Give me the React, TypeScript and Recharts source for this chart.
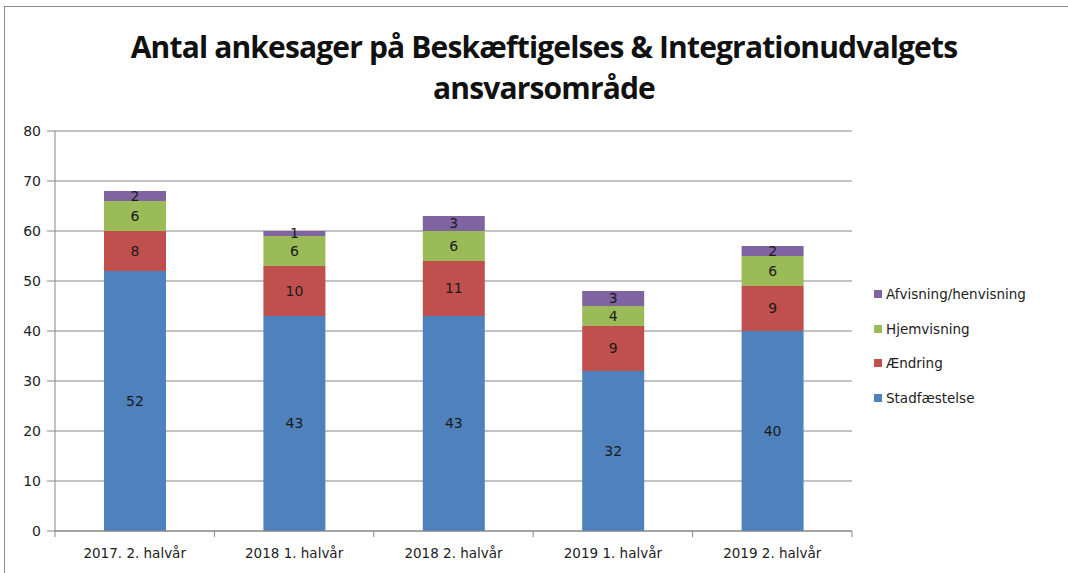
import React from 'react';
import { BarChart, Bar, XAxis, YAxis, CartesianGrid, LabelList } from 'recharts';

// =============================================================================
// Data
// =============================================================================

const periods = ['2017. 2. halvår', '2018 1. halvår', '2018 2. halvår', '2019 1. halvår', '2019 2. halvår'];
const stadfaestelse = [52, 43, 43, 32, 40];
const aendring = [8, 10, 11, 9, 9];
const hjemvisning = [6, 6, 6, 4, 6];
const afvisning = [2, 1, 3, 3, 2];
const yTicks = [0, 10, 20, 30, 40, 50, 60, 70, 80];

const SERIES = [
  { key: 'stadfaestelse', name: 'Stadfæstelse', color: '#4F81BD' },
  { key: 'aendring', name: 'Ændring', color: '#C0504D' },
  { key: 'hjemvisning', name: 'Hjemvisning', color: '#9BBB59' },
  { key: 'afvisning', name: 'Afvisning/henvisning', color: '#8064A2' },
];

const data = periods.map((p, i) => ({
  period: p,
  stadfaestelse: stadfaestelse[i],
  aendring: aendring[i],
  hjemvisning: hjemvisning[i],
  afvisning: afvisning[i],
}));

// =============================================================================
// Layout
// =============================================================================

const W = 1068;
const H = 573;
const Y_AXIS_W = 55;
const X_AXIS_H = 42;
const MARGIN = { top: 131, right: 216, bottom: 0, left: 0 };
const BAND = (W - Y_AXIS_W - MARGIN.right) / periods.length;
const FONT = '"DejaVu Sans", Verdana, sans-serif';

function XTick(props: any) {
  const { x, y, payload, index } = props;
  const half = BAND / 2;
  return (
    <g>
      {index === 0 && <line x1={x - half} y1={y - 8} x2={x - half} y2={y - 2} stroke="#868686" />}
      <line x1={x + half} y1={y - 8} x2={x + half} y2={y - 2} stroke="#868686" />
      <text x={x} y={y + 19} textAnchor="middle" fontSize={13.5} fill="#222" fontFamily={FONT}>
        {payload.value}
      </text>
    </g>
  );
}

function Legend() {
  return (
    <div style={{ position: 'absolute', left: 874, top: 277, fontFamily: FONT, fontSize: 13.5, color: '#222' }}>
      {[...SERIES].reverse().map((s) => (
        <div key={s.key} style={{ display: 'flex', alignItems: 'center', height: 34.5 }}>
          <span style={{ width: 8, height: 8, background: s.color, marginRight: 4, display: 'inline-block' }} />
          <span>{s.name}</span>
        </div>
      ))}
    </div>
  );
}

export default function App() {
  return (
    <div style={{ position: 'absolute', left: 0, top: 0, width: W, height: H, background: '#fff', overflow: 'hidden' }}>
      <div
        style={{
          position: 'absolute',
          left: 4,
          top: 6,
          width: W + 10,
          height: H + 10,
          border: '1px solid #8c8c8c',
          boxSizing: 'border-box',
        }}
      />
      <div
        style={{
          position: 'absolute',
          left: 0,
          top: 26,
          width: 1088,
          textAlign: 'center',
          fontFamily: '"Open Sans", sans-serif',
          fontWeight: 700,
          fontSize: 30,
          lineHeight: '41px',
          color: '#111',
          letterSpacing: -0.85,
        }}
      >
        Antal ankesager på Beskæftigelses &amp; Integrationudvalgets
        <br />
        ansvarsområde
      </div>
      <div style={{ position: 'absolute', left: 0, top: 0 }}>
        <BarChart width={W} height={H} data={data} margin={MARGIN} barSize={62}>
          <CartesianGrid vertical={false} stroke="#868686" strokeWidth={1} />
          <XAxis
            dataKey="period"
            stroke="#868686"
            tickLine={false}
            interval={0}
            height={X_AXIS_H}
            tick={<XTick />}
          />
          <YAxis
            domain={[0, 80]}
            ticks={yTicks}
            stroke="#868686"
            tickSize={8}
            tickMargin={6}
            tick={{ fill: '#222', fontSize: 14, fontFamily: FONT }}
            width={Y_AXIS_W}
          />
          {SERIES.map((s) => (
            <Bar key={s.key} dataKey={s.key} name={s.name} stackId="a" fill={s.color} isAnimationActive={false}>
              <LabelList
                dataKey={s.key}
                position="center"
                fill="#1a1a1a"
                fontSize={14}
                fontFamily={FONT}
              />
            </Bar>
          ))}
        </BarChart>
      </div>
      <Legend />
    </div>
  );
}
